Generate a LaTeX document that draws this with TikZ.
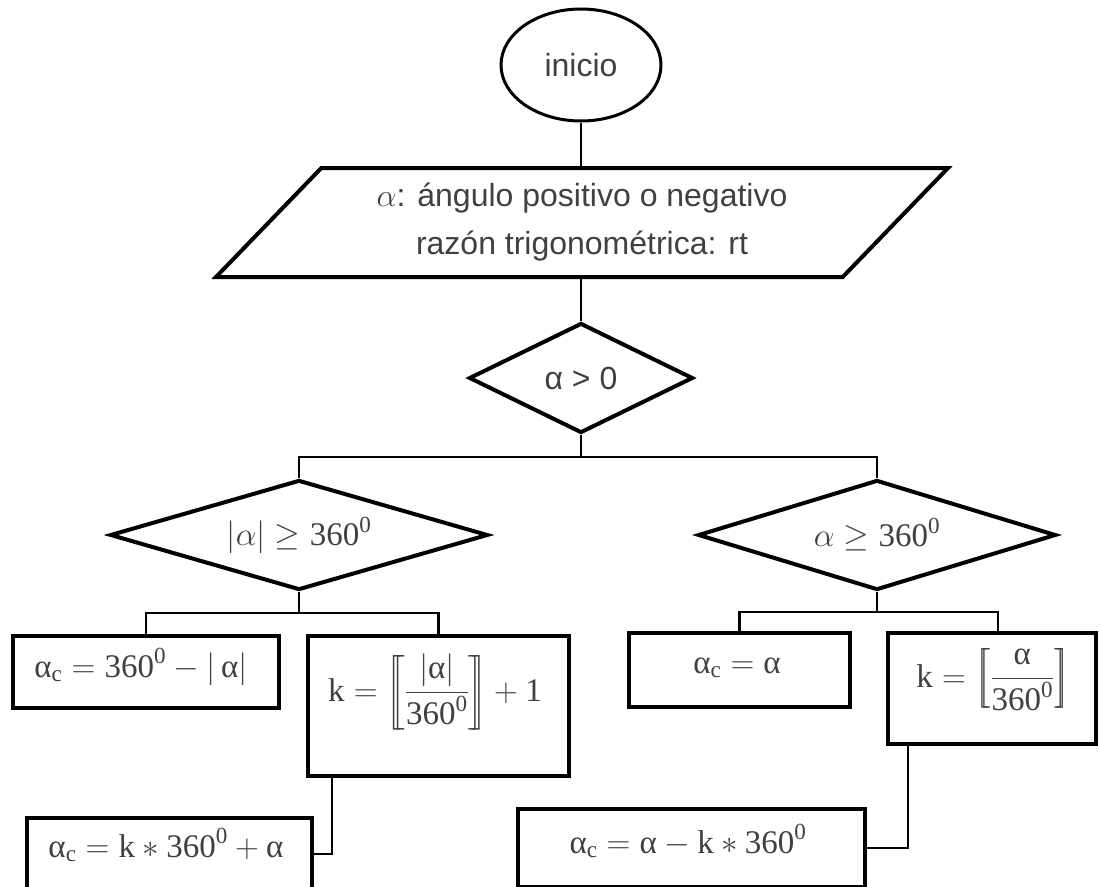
\documentclass[tikz,border=0pt]{standalone}
\usepackage{fix-cm}
\usepackage{amsmath}
\usepackage{fontspec}
\setmainfont{Liberation Sans}
\newfontfamily\grk{Liberation Serif}
\usetikzlibrary{shapes.geometric,calc}
\definecolor{txt}{RGB}{64,64,64}
% serif letters and digits inside formulas
\newcommand{\sv}[1]{\text{\grk #1}}
\newcommand{\si}[1]{\text{\grk\itshape #1}}
\newcommand{\mfont}{\fontsize{33}{40}\selectfont}
\newcommand{\sfont}{\fontsize{32}{48}\selectfont}
\begin{document}
\begin{tikzpicture}[x=1pt,y=-1pt,
  conn/.style={line width=2.5pt},
  box/.style={draw, rectangle, line width=4pt, inner sep=0pt},
  decision/.style={draw, diamond, aspect=2, line width=4pt, inner sep=0pt, text=txt},
  mtxt/.style={inner sep=0pt, text=txt, font=\mfont},
]
\useasboundingbox (0,0) rectangle (1099,886);
\clip (0,0) rectangle (1099,886);

% start and input
\node[draw, ellipse, line width=3pt, minimum width=160, minimum height=112,
      inner sep=0pt, text=txt, font=\sfont] (start) at (581,65) {inicio};
\node[draw, trapezium, trapezium left angle=36.6, trapezium right angle=143.4,
      trapezium stretches body, minimum width=732, minimum height=109,
      line width=4pt, inner sep=0pt, align=center, text=txt, font=\sfont]
      (inp) at (582,222.5) {$\alpha$: ángulo positivo o negativo\\razón trigonométrica: rt};

% decisions
\node[decision, minimum width=224, minimum height=110, font=\sfont] (d0) at (581,378) {α > 0};
\node[decision, minimum width=378, minimum height=110, font=\mfont] (dL) at (299,535)
  {$|\alpha| \geq \sv{360}^{\sv{0}}$};
\node[decision, minimum width=358, minimum height=110, font=\mfont] (dR) at (877,535)
  {$\alpha \geq \sv{360}^{\sv{0}}$};

% process boxes
\node[box, minimum width=266, minimum height=72]  (b1)  at (146,672) {};
\node[box, minimum width=261, minimum height=140] (bk1) at (438.5,706) {};
\node[box, minimum width=285, minimum height=76]  (b3)  at (169.5,856) {};
\node[box, minimum width=221, minimum height=74]  (b2)  at (739.5,670) {};
\node[box, minimum width=208, minimum height=111] (bk2) at (992,688.5) {};
\node[box, minimum width=347, minimum height=78]  (b4)  at (691.5,848) {};

% formulas
\node[mtxt, anchor=base] (f1) at (141,677)
  {$\sv{α}_{\sv{c}} = \sv{360}^{\sv{0}} - |\,\sv{α}|$};
\node[mtxt] (fk1) at (435,692)
  {$\displaystyle \sv{k} = \left[\!\!\left[\frac{|\sv{α}|}{\sv{360}^{\sv{0}}}\right]\!\!\right] + \sv{1}$};
\node[mtxt, anchor=base] (f3) at (166,857)
  {$\sv{α}_{\sv{c}} = \sv{k} \ast \sv{360}^{\sv{0}} + \sv{α}$};
\node[mtxt, anchor=base] (f2) at (737,673)
  {$\sv{α}_{\sv{c}} = \sv{α}$};
\node[mtxt] (fk2) at (993,680)
  {$\displaystyle \sv{k} = \left[\!\!\left[\frac{\sv{α}}{\sv{360}^{\sv{0}}}\right]\!\!\right]$};
\node[mtxt, anchor=base] (f4) at (688,853)
  {$\sv{α}_{\sv{c}} = \sv{α} - \sv{k} \ast \sv{360}^{\sv{0}}$};

% junction points
\coordinate (j0) at (581,457);
\coordinate (jL) at (299,613);
\coordinate (jR) at (877,612);

% connectors
\draw[conn] (start.south) -- (start.south |- inp.north);
\draw[conn] (start.south |- inp.south) -- (d0.north);
\draw[conn] (d0.south) -- (j0);
\draw[conn] (dL.north) -- (dL.north |- j0) -- (dR.north |- j0) -- (dR.north);
\draw[conn] (dL.south) -- (jL);
\draw[conn] (b1.north) -- (b1.north |- jL) -- (bk1.north |- jL) -- (bk1.north);
\draw[conn] (dR.south) -- (jR);
\draw[conn] (b2.north) -- (b2.north |- jR) -- (998,612) -- (bk2.north -| 998,0);
\draw[conn] ($(bk1.south west)+(26,0)$) |- (b3.east |- 0,854);
\draw[conn] ($(bk2.south west)+(22,0)$) |- (b4.east |- 0,848);
\end{tikzpicture}
\end{document}
